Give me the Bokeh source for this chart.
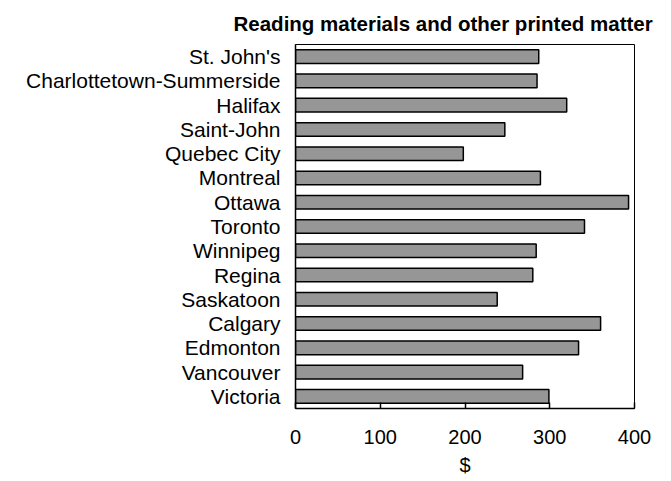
from bokeh.plotting import figure
from bokeh.models import ColumnDataSource, FactorRange, Range1d, FixedTicker
from bokeh.embed import file_html
from bokeh.resources import INLINE

cities = ["St. John's", "Charlottetown-Summerside", "Halifax", "Saint-John",
          "Quebec City", "Montreal", "Ottawa", "Toronto", "Winnipeg", "Regina",
          "Saskatoon", "Calgary", "Edmonton", "Vancouver", "Victoria"]
spending = [287, 285, 320, 247, 198, 289, 393, 341, 284, 280, 238, 360, 334, 268, 299]
x_ticks = [0, 100, 200, 300, 400]

FONT = "Liberation Sans"

source = ColumnDataSource(data=dict(city=cities, value=spending))

p = figure(
    y_range=FactorRange(factors=list(reversed(cities))),
    x_range=Range1d(0, 400),
    frame_width=339, frame_height=364,
    min_border_left=295, min_border_top=44, min_border_right=29, min_border_bottom=60,
    output_backend="svg", toolbar_location=None,
    title="Reading materials and other printed matter",
)

p.hbar(y="city", right="value", left=0, height=0.56, source=source,
       fill_color="#969696", line_color="black", line_width=1.5)

p.title.text_font = FONT
p.title.text_font_size = "20.5px"
p.title.text_font_style = "bold"
p.title.text_color = "black"
p.title.align = "left"
p.title.vertical_align = "top"
p.title.offset = -62
p.title.standoff = 16

p.grid.visible = False
p.outline_line_color = "black"
p.outline_line_width = 1
p.background_fill_color = "white"
p.border_fill_color = "white"

xa = p.xaxis[0]
xa.ticker = FixedTicker(ticks=x_ticks)
xa.major_tick_in = 6
xa.major_tick_out = 0
xa.minor_tick_in = 0
xa.minor_tick_out = 0
xa.axis_line_color = "black"
xa.axis_line_width = 1.5
xa.major_tick_line_color = "black"
xa.major_tick_line_width = 1.5
xa.major_label_text_font = FONT
xa.major_label_text_font_size = "20px"
xa.major_label_text_color = "black"
xa.major_label_standoff = 21
xa.axis_label = "$"
xa.axis_label_text_font = FONT
xa.axis_label_text_font_size = "20px"
xa.axis_label_text_font_style = "normal"
xa.axis_label_text_color = "black"
xa.axis_label_standoff = 7

ya = p.yaxis[0]
ya.major_tick_in = 0
ya.major_tick_out = 0
ya.minor_tick_in = 0
ya.minor_tick_out = 0
ya.axis_line_color = "black"
ya.axis_line_width = 1.5
ya.major_label_text_font = FONT
ya.major_label_text_font_size = "21px"
ya.major_label_text_color = "black"
ya.major_label_standoff = 15

open("out.html", "w").write(file_html(p, INLINE))
